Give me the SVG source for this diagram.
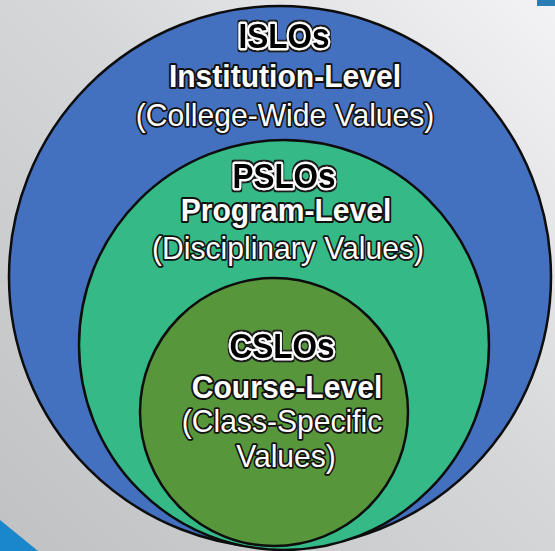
<svg xmlns="http://www.w3.org/2000/svg" width="555" height="551" viewBox="0 0 555 551">
  <defs>
    <linearGradient id="bg" x1="0" y1="1" x2="1" y2="0">
      <stop offset="0" stop-color="#c0c1c3"/>
      <stop offset="0.55" stop-color="#d6d7d9"/>
      <stop offset="1" stop-color="#f3f3f5"/>
    </linearGradient>
    <filter id="outline" x="-10%" y="-20%" width="120%" height="140%">
      <feMorphology in="SourceAlpha" operator="dilate" radius="1.6" result="thick"/>
      <feFlood flood-color="#1a1a1a" result="dark"/>
      <feComposite in="dark" in2="thick" operator="in" result="ring"/>
      <feMerge>
        <feMergeNode in="ring"/>
        <feMergeNode in="SourceGraphic"/>
      </feMerge>
    </filter>
  </defs>
  <style>
    .ring { stroke: #0d0d0d; stroke-width: 2.5; }
    text { font-family: "Liberation Sans", Arial, sans-serif; text-anchor: middle; stroke-linejoin: round; }
    .title { font-weight: bold; font-size: 35px; fill: #000; stroke: #fff; stroke-width: 4.5; paint-order: stroke; filter: url(#outline); }
    .lvl { font-weight: bold; font-size: 32px; fill: #fff; stroke: #111; stroke-width: 4; paint-order: stroke; }
    .val { font-size: 32px; fill: #fff; stroke: #111; stroke-width: 3.5; paint-order: stroke; }
  </style>
  <rect x="0" y="0" width="555" height="551" fill="url(#bg)"/>
  <polygon points="0,520 38,551 0,551" fill="#1a86cb"/>
  <rect x="537" y="0" width="18" height="6" fill="#2a7db2"/>

  <g id="islos">
    <circle class="ring" cx="280" cy="277" r="271" fill="#4470c0"/>
    <text class="title" transform="translate(284,48) scale(0.9,1)">ISLOs</text>
    <text class="lvl" transform="translate(285,87) scale(0.94,1)">Institution-Level</text>
    <text class="val" transform="translate(285,126) scale(0.94,1)">(College-Wide Values)</text>
  </g>

  <g id="pslos">
    <circle class="ring" cx="284" cy="345" r="205" fill="#35b987"/>
    <text class="title" transform="translate(284,188) scale(0.9,1)">PSLOs</text>
    <text class="lvl" transform="translate(286,221) scale(0.94,1)">Program-Level</text>
    <text class="val" transform="translate(288,259) scale(0.94,1)">(Disciplinary Values)</text>
  </g>

  <g id="cslos">
    <circle class="ring" cx="274" cy="412" r="134" fill="#58963c"/>
    <text class="title" transform="translate(282,358) scale(0.9,1)">CSLOs</text>
    <text class="lvl" transform="translate(287,398) scale(0.94,1)">Course-Level</text>
    <text class="val" transform="translate(282,432) scale(0.94,1)">(Class-Specific</text>
    <text class="val" transform="translate(286,467) scale(0.94,1)">Values)</text>
  </g>

  <g id="connectors"/>
</svg>
